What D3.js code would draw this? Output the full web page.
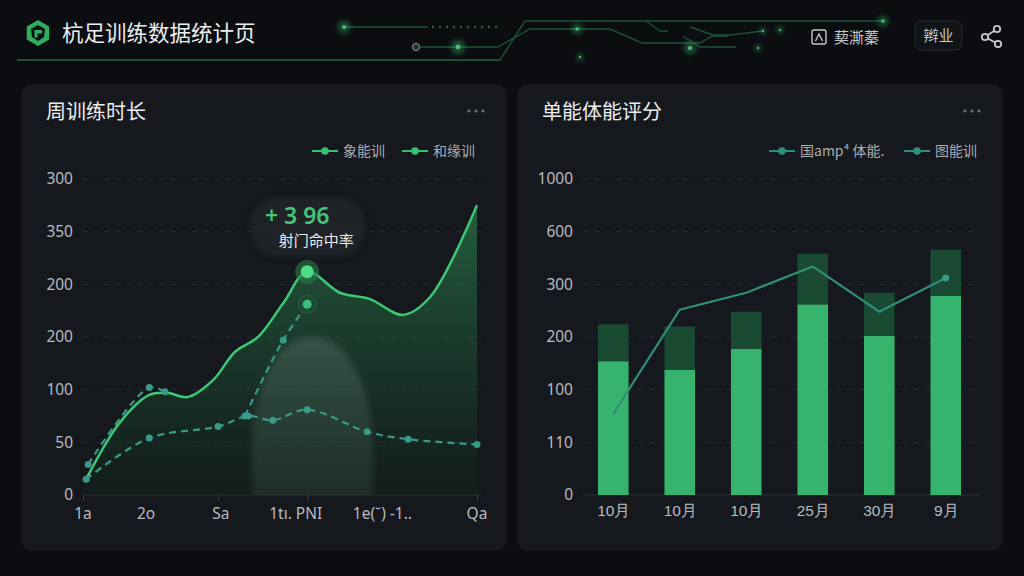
<!DOCTYPE html>
<html>
<head>
<meta charset="utf-8">
<script src="https://cdn.jsdelivr.net/npm/d3@7"></script>
<style>
  html, body { margin: 0; padding: 0; background: #0b0d10; }
  svg { display: block; font-family: "Noto Sans CJK SC", "Noto Sans", sans-serif; }
</style>
</head>
<body>
<svg id="chart" width="1024" height="576"></svg>
<script>
// ---- data ----
const leftTickValues = [0, 50, 100, 150, 200, 250, 300];
const leftTickLabels = ["0", "50", "100", "200", "200", "350", "300"];
const weekLabels = ["1a", "2o", "Sa", "1tı. PNI", "1e(˘) -1..", "Qa"];
const weekLabelPos = [0, 1.6, 3.5, 5.4, 7.6, 10];
const weekTickPos = [0, 3.43, 5.69, 10];

const mainX = [0.08, 0.94, 1.68, 2.13, 2.66, 3.30, 3.86, 4.44, 5.08, 5.69, 6.52, 7.28, 8.12, 8.81, 10];
const mainY = [15, 69, 95, 97, 93, 109, 136, 150, 182, 212, 192, 186, 171, 188, 275];

const dashAX = [0.13, 1.68, 2.08, 3.2, 4.11, 5.08, 5.69];
const dashAY = [29, 102, 98, null, 75, 147, 181];

const dashBX = [0.08, 1.68, 3.43, 4.19, 4.82, 5.69, 7.21, 8.25, 10];
const dashBY = [15, 54, 65, 75, 71, 81, 60, 53, 48];

const rightTickValues = [0, 50, 100, 150, 200, 250, 300];
const rightTickLabels = ["0", "110", "100", "200", "300", "600", "1000"];
const months = ["10月", "10月", "10月", "25月", "30月", "9月"];
const barBase = [127, 119, 139, 181, 151, 189];
const barTop = [35, 41, 35, 48, 41, 44];
const scoreLine = [77, 176, 192, 217, 174, 206];

const leftLegend = ["象能训", "和缘训"];
const rightLegend = ["国amp⁴ 体能.", "图能训"];

const svg = d3.select("#chart");
const defs = svg.append("defs");

const glow = defs.append("filter").attr("id", "glow").attr("x", "-200%").attr("y", "-200%").attr("width", "500%").attr("height", "500%");
glow.append("feGaussianBlur").attr("stdDeviation", 2.5);
const soft = defs.append("filter").attr("id", "soft").attr("x", "-30%").attr("y", "-30%").attr("width", "160%").attr("height", "160%");
soft.append("feGaussianBlur").attr("stdDeviation", 3);

const areaGrad = defs.append("linearGradient").attr("id", "areaGrad")
    .attr("x1", 0).attr("y1", 0).attr("x2", 0).attr("y2", 1);
areaGrad.append("stop").attr("offset", "0%").attr("stop-color", "#2f8a55").attr("stop-opacity", 0.6);
areaGrad.append("stop").attr("offset", "55%").attr("stop-color", "#1c4c33").attr("stop-opacity", 0.55);
areaGrad.append("stop").attr("offset", "100%").attr("stop-color", "#10241a").attr("stop-opacity", 0.4);

const spotGrad = defs.append("linearGradient").attr("id", "spotGrad")
    .attr("x1", 0).attr("y1", 0).attr("x2", 0).attr("y2", 1);
spotGrad.append("stop").attr("offset", "0%").attr("stop-color", "#5f7d70").attr("stop-opacity", 0.38);
spotGrad.append("stop").attr("offset", "60%").attr("stop-color", "#4a6a5c").attr("stop-opacity", 0.22);
spotGrad.append("stop").attr("offset", "100%").attr("stop-color", "#3a5a4c").attr("stop-opacity", 0.05);

defs.append("clipPath").attr("id", "plotClip").append("rect")
    .attr("x", 82).attr("y", 170).attr("width", 402).attr("height", 325);

// ---- header ----
const circuit = svg.append("g").attr("fill", "none").attr("stroke", "#1e5236").attr("stroke-width", 1.4);
circuit.append("path").attr("d", "M17,60 H500 L525,21 H883");
circuit.append("path").attr("d", "M419,47 H498 L530,29 H610 L642,43 H700 L712,36 H728");
circuit.append("path").attr("d", "M344,27 H428");
circuit.append("path").attr("d", "M646,21 L660,31 H668");
circuit.append("path").attr("d", "M690,27 L713,35 H730 L763,31");
circuit.append("path").attr("d", "M683,36 L700,47 H736");
circuit.append("path").attr("d", "M432,27 H500").attr("stroke", "#275e40").attr("stroke-width", 2.4).attr("stroke-dasharray", "2,5");
circuit.append("path").attr("d", "M17,60 H500").attr("stroke", "#245e3e").attr("stroke-width", 1.2);

const glowDots = [[344, 27, 3.5], [458, 47, 4], [577, 29, 3], [580, 57, 2], [690, 48, 3.5], [883, 21, 3], [758, 48, 2], [780, 30, 2], [763, 31, 2]];
svg.append("g").selectAll("circle").data(glowDots).join("circle")
    .attr("cx", d => d[0]).attr("cy", d => d[1]).attr("r", d => d[2] * 1.8)
    .attr("fill", "#3fd07a").attr("opacity", 0.35).attr("filter", "url(#glow)");
svg.append("g").selectAll("circle").data(glowDots).join("circle")
    .attr("cx", d => d[0]).attr("cy", d => d[1]).attr("r", d => d[2] * 0.6)
    .attr("fill", "#5fe394").attr("opacity", 0.7);
svg.append("circle").attr("cx", 416).attr("cy", 47).attr("r", 3.5)
    .attr("fill", "#2a2f33").attr("stroke", "#6b7378").attr("stroke-width", 1.5);

// logo
const logo = svg.append("g").attr("transform", "translate(38,33)");
logo.append("path").attr("d", d3.range(6).map((i, k) => {
    const a = Math.PI / 3 * i - Math.PI / 2;
    return (k ? "L" : "M") + (13 * Math.cos(a)).toFixed(2) + "," + (13 * Math.sin(a)).toFixed(2);
}).join("") + "Z").attr("fill", "#2fae5c");
logo.append("path").attr("d", "M-7,-4 L0,-8 L7,-4 L6,4 L0,8 L-6,4 Z").attr("fill", "#0f1215");
logo.append("path").attr("d", "M-3.5,-3 H4 V0.5 H-0.5 V4.5 H-3.5 Z").attr("fill", "#2fae5c");

svg.append("text").attr("x", 62).attr("y", 41).attr("font-size", 21.5).attr("fill", "#eceef0")
    .text("杭足训练数据统计页");

// right header controls
svg.append("rect").attr("x", 812).attr("y", 30).attr("width", 14).attr("height", 14).attr("rx", 2)
    .attr("fill", "none").attr("stroke", "#c4c8cc").attr("stroke-width", 1.4);
svg.append("path").attr("d", "M815.5,41 L819,34 L822.5,41").attr("fill", "none").attr("stroke", "#c4c8cc").attr("stroke-width", 1.4);
svg.append("text").attr("x", 834).attr("y", 43).attr("font-size", 15).attr("fill", "#c4c8cc").text("葜澌蓁");

svg.append("rect").attr("x", 915).attr("y", 21).attr("width", 47).attr("height", 29).attr("rx", 6)
    .attr("fill", "#121518").attr("stroke", "#262b30");
svg.append("text").attr("x", 938.5).attr("y", 41).attr("text-anchor", "middle").attr("font-size", 15)
    .attr("fill", "#c4c8cc").text("辫业");

const share = svg.append("g").attr("stroke", "#c4c8cc").attr("stroke-width", 1.8).attr("fill", "none");
share.append("path").attr("d", "M997,29 L985,37 L998,44");
share.selectAll("circle").data([[997, 29], [985, 37], [998, 44]]).join("circle")
    .attr("cx", d => d[0]).attr("cy", d => d[1]).attr("r", 3.2).attr("fill", "#0b0d10");

// ---- panels ----
function panel(x, title) {
    svg.append("rect").attr("x", x).attr("y", 85).attr("width", 484).attr("height", 465).attr("rx", 10)
        .attr("fill", "#15181c").attr("stroke", "#1b1f23");
    svg.append("text").attr("x", x + 24).attr("y", 119).attr("font-size", 20).attr("fill", "#eceef0").text(title);
    svg.append("g").selectAll("circle").data([0, 1, 2]).join("circle")
        .attr("cx", d => x + 447 + d * 7).attr("cy", 111).attr("r", 1.6).attr("fill", "#6b7075");
}
panel(22, "周训练时长");
panel(518, "单能体能评分");

function legend(items, xs, color) {
    items.forEach((t, i) => {
        const g = svg.append("g").attr("transform", `translate(${xs[i]},151)`);
        g.append("line").attr("x1", 0).attr("x2", 26).attr("stroke", color).attr("stroke-width", 2);
        g.append("circle").attr("cx", 13).attr("r", 3.8).attr("fill", color);
        g.append("text").attr("x", 31).attr("y", 5).attr("font-size", 14).attr("fill", "#a8adb2").text(t);
    });
}

// ---- left chart ----
const xL = d3.scaleLinear().domain([0, 10]).range([83, 477]);
const yL = d3.scaleLinear().domain([0, 300]).range([495, 179]);

const gL = svg.append("g");
gL.append("g").selectAll("line").data(leftTickValues.slice(1)).join("line")
    .attr("x1", 82).attr("x2", 483).attr("y1", d => yL(d)).attr("y2", d => yL(d))
    .attr("stroke", "#272c31").attr("stroke-dasharray", "6,5");

const leftAxis = gL.append("g").attr("transform", "translate(78,0)")
    .call(d3.axisLeft(yL).tickValues(leftTickValues).tickFormat((d, i) => leftTickLabels[i]).tickSize(0));
leftAxis.select(".domain").remove();
leftAxis.selectAll("text").attr("font-size", 15.5).attr("fill", "#b8bcc0").attr("x", -5).attr("font-family", "Noto Sans, sans-serif");

legend(leftLegend, [312, 402], "#37c072");

const mainPts = mainX.map((x, i) => ({ x, y: mainY[i] }));
const areaGen = d3.area().x(d => xL(d.x)).y0(yL(0)).y1(d => yL(d.y)).curve(d3.curveCatmullRom.alpha(0.5));
const lineGen = d3.line().x(d => xL(d.x)).y(d => yL(d.y)).curve(d3.curveCatmullRom.alpha(0.5));

gL.append("path").datum(mainPts).attr("d", areaGen).attr("fill", "url(#areaGrad)");

// soft highlight behind the peak week
gL.append("g").attr("clip-path", "url(#plotClip)").append("rect")
    .attr("x", xL(4.3)).attr("y", yL(150)).attr("width", xL(7.35) - xL(4.3))
    .attr("height", 260).attr("rx", 58).attr("ry", 110)
    .attr("fill", "url(#spotGrad)").attr("filter", "url(#soft)");

gL.append("path").datum(mainPts).attr("d", lineGen).attr("fill", "none")
    .attr("stroke", "#3cc874").attr("stroke-width", 2.5);

const bottomL = gL.append("g").attr("transform", "translate(0,495)")
    .call(d3.axisBottom(xL).tickValues(weekTickPos).tickSize(6).tickFormat(""));
bottomL.select(".domain").attr("stroke", "#2c3136").attr("d", "M83,0H481");
bottomL.selectAll(".tick line").attr("stroke", "#3a3f44");
gL.append("g").selectAll("text").data(weekLabels).join("text")
    .attr("x", (d, i) => xL(weekLabelPos[i])).attr("y", 519)
    .attr("text-anchor", "middle").attr("font-size", 15.5).attr("fill", "#b8bcc0")
    .attr("font-family", "Noto Sans, sans-serif").text(d => d);

const dashA = dashAX.map((x, i) => ({ x, y: dashAY[i] }));
const dashB = dashBX.map((x, i) => ({ x, y: dashBY[i] }));
const dashLine = d3.line().defined(d => d.y !== null).x(d => xL(d.x)).y(d => yL(d.y)).curve(d3.curveCatmullRom.alpha(0.5));

[dashA, dashB].forEach(s => {
    gL.append("path").datum(s).attr("d", dashLine).attr("fill", "none")
        .attr("stroke", "#3a9a88").attr("stroke-width", 2.2).attr("stroke-dasharray", "7,5");
    gL.append("g").selectAll("circle").data(s.filter(d => d.y !== null)).join("circle")
        .attr("cx", d => xL(d.x)).attr("cy", d => yL(d.y)).attr("r", 3.5).attr("fill", "#3a9a88");
});

// highlighted points at the peak week
const peak = mainPts[9];
gL.append("circle").attr("cx", xL(peak.x)).attr("cy", yL(peak.y)).attr("r", 12).attr("fill", "#2f7a4c").attr("opacity", 0.6);
gL.append("circle").attr("cx", xL(peak.x)).attr("cy", yL(peak.y)).attr("r", 6.5).attr("fill", "#4fdc86");
const peakA = dashA[6];
gL.append("circle").attr("cx", xL(peakA.x)).attr("cy", yL(peakA.y)).attr("r", 9).attr("fill", "#1f4a36").attr("stroke", "#2d5a44");
gL.append("circle").attr("cx", xL(peakA.x)).attr("cy", yL(peakA.y)).attr("r", 4.5).attr("fill", "#3cbf7e");

// tooltip
const tip = gL.append("g").attr("transform", `translate(${xL(peak.x)},${yL(peak.y) - 45})`);
tip.append("rect").attr("x", -57).attr("y", -30).attr("width", 115).attr("height", 60).attr("rx", 28)
    .attr("fill", "#22272b").attr("opacity", 0.8).attr("filter", "url(#glow)");
tip.append("text").attr("x", -10).attr("y", -3).attr("text-anchor", "middle").attr("font-size", 23)
    .attr("font-weight", 600).attr("fill", "#46c57a").attr("font-family", "Noto Sans, sans-serif").text("+ 3 96");
tip.append("text").attr("x", 9).attr("y", 19).attr("text-anchor", "middle").attr("font-size", 15)
    .attr("fill", "#eceef0").text("射门命中率");

// ---- right chart ----
const xR = d3.scalePoint().domain(d3.range(months.length)).range([580, 979]).padding(0.5);
const yR = d3.scaleLinear().domain([0, 300]).range([495, 179]);
const barW = xR.step() * 0.46;

const gR = svg.append("g");
gR.append("g").selectAll("line").data(rightTickValues.slice(1)).join("line")
    .attr("x1", 583).attr("x2", 980).attr("y1", d => yR(d)).attr("y2", d => yR(d))
    .attr("stroke", "#272c31").attr("stroke-dasharray", "6,5");
gR.append("line").attr("x1", 583).attr("x2", 980).attr("y1", yR(0)).attr("y2", yR(0)).attr("stroke", "#2c3136");

const rightAxis = gR.append("g").attr("transform", "translate(578,0)")
    .call(d3.axisLeft(yR).tickValues(rightTickValues).tickFormat((d, i) => rightTickLabels[i]).tickSize(0));
rightAxis.select(".domain").remove();
rightAxis.selectAll("text").attr("font-size", 15.5).attr("fill", "#b8bcc0").attr("x", -5).attr("font-family", "Noto Sans, sans-serif");

const bottomR = gR.append("g").attr("transform", "translate(0,495)")
    .call(d3.axisBottom(xR).tickSize(0).tickFormat(i => months[i]));
bottomR.select(".domain").remove();
bottomR.selectAll("text").attr("font-size", 15.5).attr("fill", "#b8bcc0").attr("dy", "1.15em");

legend(rightLegend, [769, 904], "#2f8f7a");

gR.append("g").selectAll("rect").data(barBase).join("rect")
    .attr("x", (d, i) => xR(i) - barW / 2).attr("width", barW)
    .attr("y", d => yR(d)).attr("height", d => yR(0) - yR(d))
    .attr("fill", "#36b36c");
gR.append("g").selectAll("rect").data(barTop).join("rect")
    .attr("x", (d, i) => xR(i) - barW / 2).attr("width", barW)
    .attr("y", (d, i) => yR(barBase[i] + d)).attr("height", d => yR(0) - yR(d))
    .attr("fill", "#1b4a33");

gR.append("path").datum(scoreLine)
    .attr("d", d3.line().x((d, i) => xR(i)).y(d => yR(d)))
    .attr("fill", "none").attr("stroke", "#2f8f7a").attr("stroke-width", 2.2);
gR.append("circle").attr("cx", xR(scoreLine.length - 1)).attr("cy", yR(scoreLine[scoreLine.length - 1]))
    .attr("r", 3.5).attr("fill", "#3a9a88");
</script>
</body>
</html>
